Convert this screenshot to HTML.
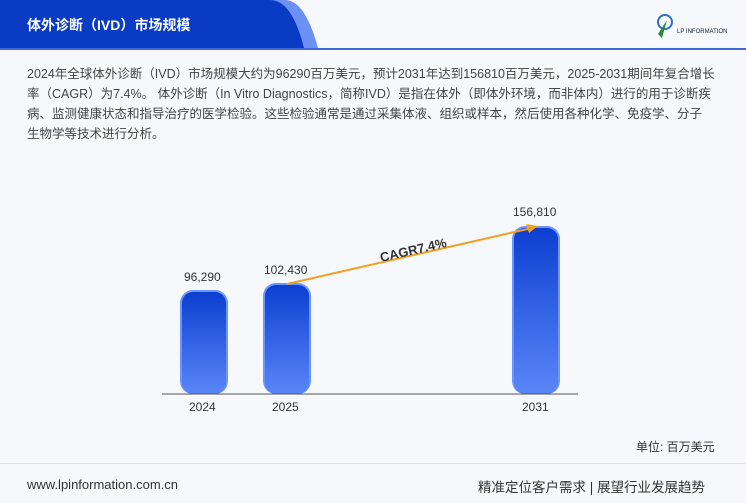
<!DOCTYPE html>
<html><head><meta charset="utf-8"><style>
body{margin:0;width:746px;height:503px;background:#f7f8fc;font-family:"Liberation Sans","Noto Sans CJK SC",sans-serif;position:relative;overflow:hidden;color:#333}
.t{position:absolute;white-space:nowrap}
</style></head><body>
<svg width="746" height="503" style="position:absolute;left:0;top:0">
<defs>
<linearGradient id="g" x1="0" y1="0" x2="0" y2="1"><stop offset="0" stop-color="#0d3fd0"/><stop offset="1" stop-color="#5a86f8"/></linearGradient>
</defs>
<path d="M0 0H285Q305 0 318 48H0Z" fill="#6d90f5"/>
<path d="M0 0H270Q292 0 304 48H0Z" fill="#0a3bc4"/>
<rect x="0" y="48" width="746" height="2" fill="#3f66d8"/>
<rect x="180" y="290" width="48" height="104" rx="13" fill="#6b95ff"/>
<rect x="182" y="292" width="44" height="102" rx="11" fill="url(#g)"/>
<rect x="263" y="283" width="48" height="111" rx="13" fill="#6b95ff"/>
<rect x="265" y="285" width="44" height="109" rx="11" fill="url(#g)"/>
<rect x="512" y="226" width="48" height="168" rx="13" fill="#6b95ff"/>
<rect x="514" y="228" width="44" height="166" rx="11" fill="url(#g)"/>
<line x1="162" y1="394" x2="578" y2="394" stroke="#555" stroke-width="1"/>
<line x1="287" y1="284" x2="532" y2="228" stroke="#f0a020" stroke-width="2"/>
<path d="M538 226L526 224L529 233Z" fill="#f0a020"/>
<text x="378" y="255" transform="rotate(-13 410 245)" font-family="Liberation Sans" font-weight="bold" font-size="13" fill="#333">CAGR7.4%</text>
<rect x="0" y="463" width="746" height="1" fill="#ddd"/>
<g fill="#2a8a3a"><circle cx="665" cy="22" r="7" fill="none" stroke="#2a6fd0" stroke-width="2"/><path d="M658 34L667 20L662 38Z"/></g>
</svg>
<div class="t" style="left:27px;top:15px;color:#fff;font-weight:bold;font-size:14px">体外诊断（IVD）市场规模</div>
<div class="t" style="left:677px;top:29px;font-size:6px;color:#123">LP INFORMATION</div>
<div style="position:absolute;left:27px;top:64px;width:720px;font-size:12.5px;line-height:20px;color:#444;white-space:nowrap">2024年全球体外诊断（IVD）市场规模大约为96290百万美元，预计2031年达到156810百万美元，2025-2031期间年复合增长<br>率（CAGR）为7.4%。 体外诊断（In Vitro Diagnostics，简称IVD）是指在体外（即体外环境，而非体内）进行的用于诊断疾<br>病、监测健康状态和指导治疗的医学检验。这些检验通常是通过采集体液、组织或样本，然后使用各种化学、免疫学、分子<br>生物学等技术进行分析。</div>
<div class="t" style="left:184px;top:270px;font-size:12px">96,290</div>
<div class="t" style="left:264px;top:263px;font-size:12px">102,430</div>
<div class="t" style="left:513px;top:205px;font-size:12px">156,810</div>
<div class="t" style="left:189px;top:400px;font-size:12px">2024</div>
<div class="t" style="left:272px;top:400px;font-size:12px">2025</div>
<div class="t" style="left:522px;top:400px;font-size:12px">2031</div>
<div class="t" style="left:636px;top:438px;font-size:12px">单位: 百万美元</div>
<div class="t" style="left:27px;top:477px;font-size:13px">www.lpinformation.com.cn</div>
<div class="t" style="left:478px;top:476px;font-size:13.5px">精准定位客户需求 | 展望行业发展趋势</div>
</body></html>
